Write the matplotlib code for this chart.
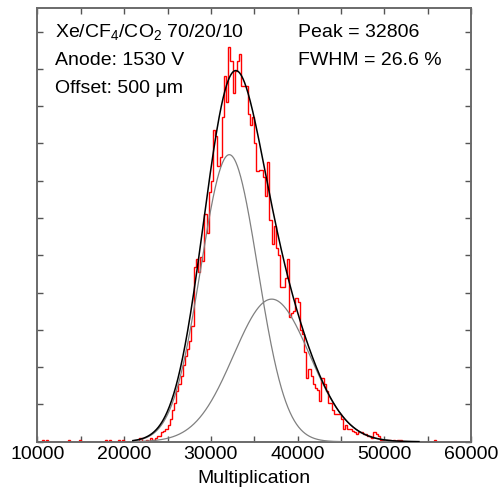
import numpy as np
import matplotlib.pyplot as plt

plt.rcParams['font.family'] = ['Liberation Sans', 'DejaVu Sans']
plt.rcParams['mathtext.fontset'] = 'custom'
plt.rcParams['mathtext.rm'] = 'Liberation Sans'
plt.rcParams['mathtext.it'] = 'Liberation Sans:italic'

# histogram: left edges of non-empty 250-wide bins and their counts
bin_width = 250
bin_lo = [10500, 11000, 13500, 14750, 17750, 18250, 19250, 19750, 21750, 22500,
          23000, 23250, 23500, 23750, 24000, 24250, 24500, 24750, 25000, 25250,
          25500, 25750, 26000, 26250, 26500, 26750, 27000, 27250, 27500, 27750,
          28000, 28250, 28500, 28750, 29000, 29250, 29500, 29750, 30000, 30250,
          30500, 30750, 31000, 31250, 31500, 31750, 32000, 32250, 32500, 32750,
          33000, 33250, 33500, 33750, 34000, 34250, 34500, 34750, 35000, 35250,
          35500, 35750, 36000, 36250, 36500, 36750, 37000, 37250, 37500, 37750,
          38000, 38250, 38500, 38750, 39000, 39250, 39500, 39750, 40000, 40250,
          40500, 40750, 41000, 41250, 41500, 41750, 42000, 42250, 42500, 42750,
          43000, 43250, 43500, 43750, 44000, 44250, 44500, 44750, 45000, 45250,
          45500, 45750, 46000, 46250, 46500, 46750, 47000, 47250, 47500, 47750,
          48000, 48250, 48500, 48750, 49000, 49250, 49500, 49750, 50250, 50500,
          51000, 51500, 51750, 55750]
counts = [1, 1, 1, 1, 1, 1, 1, 1, 2, 1,
          2, 1, 2, 3, 3, 5, 6, 7, 9, 12,
          17, 21, 27, 31, 35, 41, 46, 50, 54, 62,
          94, 98, 91, 99, 97, 122, 112, 134, 140, 167,
          164, 148, 153, 174, 196, 182, 212, 204, 187, 199,
          204, 208, 191, 191, 191, 176, 170, 174, 160, 145,
          146, 146, 142, 132, 150, 119, 106, 116, 104, 100,
          83, 83, 88, 98, 67, 69, 70, 77, 75, 60,
          58, 48, 34, 39, 35, 31, 29, 28, 22, 34,
          31, 27, 21, 21, 17, 15, 15, 15, 12, 7,
          9, 7, 7, 6, 5, 4, 5, 5, 4, 4,
          3, 3, 2, 5, 4, 3, 1, 1, 1, 1,
          1, 1, 1, 1]

# two-gaussian fit: amplitude, mean, sigma
g1 = (154.0, 32121.0, 3280.0)
g2 = (76.5, 37014.0, 4400.0)

x_min, x_max = 10000, 60000
edges = np.arange(x_min, x_max + bin_width, bin_width)
h = np.zeros(len(edges) - 1)
for lo, c in zip(bin_lo, counts):
    h[(lo - x_min) // bin_width] = c


def gaus(x, p):
    a, m, s = p
    return a * np.exp(-0.5 * ((x - m) / s) ** 2)


fig = plt.figure(figsize=(5.04, 4.87), dpi=100)
ax = fig.add_axes([0.0744, 0.093, 0.8601, 0.8906])

ax.stairs(h, edges, color='red', lw=1.0, zorder=2)

xf = np.linspace(21000, 54000, 800)
ax.plot(xf, gaus(xf, g1), color='#808080', lw=0.9, zorder=3)
ax.plot(xf, gaus(xf, g2), color='#808080', lw=0.9, zorder=3)
ax.plot(xf, gaus(xf, g1) + gaus(xf, g2), color='black', lw=1.1, zorder=4)

fs = 14
ax.set_xlim(x_min, x_max)
ax.set_ylim(0, 232.7)
ax.set_xticks(np.arange(10000, 60001, 10000))
ax.set_xticks(np.arange(15000, 60000, 10000), minor=True)
ax.set_yticks(np.arange(0, 232, 20))
ax.set_yticklabels([])
ax.tick_params(which='both', direction='in', length=4, width=1, color='#555555',
               top=True, right=True, labelsize=fs, pad=3)
for sp in ax.spines.values():
    sp.set_color('#6a6a6a')
    sp.set_linewidth(1.4)
ax.set_xlabel('Multiplication', fontsize=fs, labelpad=5)

fig.text(55 / 504, 1 - 37 / 487, 'Xe/CF$_4$/CO$_2$ 70/20/10', fontsize=fs, va='baseline')
fig.text(55 / 504, 1 - 65 / 487, 'Anode: 1530 V', fontsize=fs, va='baseline')
fig.text(55 / 504, 1 - 93 / 487, 'Offset: 500 \u03bcm', fontsize=fs, va='baseline')
fig.text(298 / 504, 1 - 37 / 487, 'Peak = 32806', fontsize=fs, va='baseline')
fig.text(298 / 504, 1 - 65 / 487, 'FWHM = 26.6 %', fontsize=fs, va='baseline')

fig.savefig('out.png', dpi=100)
